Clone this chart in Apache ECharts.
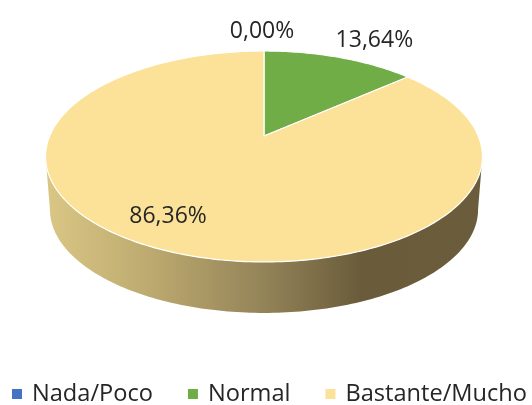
<!DOCTYPE html>
<html>
<head>
<meta charset="utf-8">
<style>html,body{margin:0;padding:0;background:#fff}#c{width:532px;height:405px}</style>
<script src="https://cdn.jsdelivr.net/npm/echarts@6/dist/echarts.min.js"></script>
</head>
<body>
<div id="c"></div>
<script>
var categories = ['Nada/Poco', 'Normal', 'Bastante/Mucho'];
var values = [0, 13.64, 86.36];
var colors = ['#4472C4', '#70AD47', '#FBE298'];

// layout of the tilted disc
var CX = 264, CY = 136, SX = 214.3, SY = 101.5, K = 0.194;
var DEPTH = 53.5, FOOT = 0.98;
var WALL_FROM = 101, WALL_TO = 259;
var labelPlace = [
  { r: 1.31, dx: -2, dy: 1 },
  { r: 1.27, dx: 18, dy: 0 },
  { r: 0.75, dx: -19, dy: 1 }
];
var FONT = '"Open Sans"';

var total = values.reduce(function (a, b) { return a + b; }, 0);
function project(deg, r, scale, dy) {
  var t = deg * Math.PI / 180, x = r * Math.sin(t), y = r * Math.cos(t), d = 1 + K * y;
  return [CX + scale * SX * x / d, CY + dy - scale * SY * y / d];
}
function arc(a, b, r, scale, dy) {
  var out = [], n = Math.max(1, Math.ceil(Math.abs(b - a)));
  for (var i = 0; i <= n; i++) out.push(project(a + (b - a) * i / n, r, scale, dy));
  return out;
}
var wallFill = {
  type: 'linear', global: true, x: 46, y: 0, x2: 483, y2: 0,
  colorStops: [
    { offset: 0, color: '#DAC785' },
    { offset: 0.25, color: '#BBA86E' },
    { offset: 0.5, color: '#938358' },
    { offset: 0.72, color: '#6A5C3A' },
    { offset: 1, color: '#6B5D3B' }
  ]
};
function renderSlice(params, api) {
  var start = api.value(0), value = api.value(1), idx = params.seriesIndex;
  var a0 = start / total * 360, a1 = (start + value) / total * 360;
  var kids = [];
  var w0 = Math.max(a0, WALL_FROM), w1 = Math.min(a1, WALL_TO);
  if (w1 > w0) {
    var wall = arc(w0, w1, 1, 1, 0).concat(arc(w1, w0, 1, FOOT, DEPTH));
    kids.push({ type: 'polygon', shape: { points: wall }, style: { fill: wallFill, stroke: null } });
  }
  if (value > 0) {
    var top = [[CX, CY]].concat(arc(a0, a1, 1, 1, 0));
    kids.push({ type: 'polygon', shape: { points: top },
      style: { fill: colors[idx], stroke: '#ffffff', lineWidth: 1.2, lineJoin: 'round' } });
  }
  var p = labelPlace[idx], at = project((a0 + a1) / 2, p.r, 1, 0);
  kids.push({ type: 'text', z2: 10, style: {
    x: at[0] + p.dx, y: at[1] + p.dy, text: value.toFixed(2).replace('.', ',') + '%',
    fill: '#262626', font: '23px ' + FONT, align: 'center', verticalAlign: 'middle' } });
  return { type: 'group', children: kids };
}
var running = 0;
var series = categories.map(function (name, i) {
  var row = [running, values[i]];
  running += values[i];
  return { type: 'custom', name: name, coordinateSystem: 'none', silent: true, animation: false,
    itemStyle: { color: colors[i] }, data: [row], renderItem: renderSlice };
});
var chart = echarts.init(document.getElementById('c'), null, { renderer: 'canvas' });
chart.setOption({
  animation: false,
  backgroundColor: '#ffffff',
  legend: {
    left: 12, top: 382, width: 525, itemWidth: 10, itemHeight: 10, itemGap: 35, icon: 'rect', padding: 0,
    data: categories,
    textStyle: { fontFamily: FONT, fontSize: 23.6, color: '#262626', padding: [0, 0, 0, 5] }
  },
  series: series
});
</script>
</body>
</html>
